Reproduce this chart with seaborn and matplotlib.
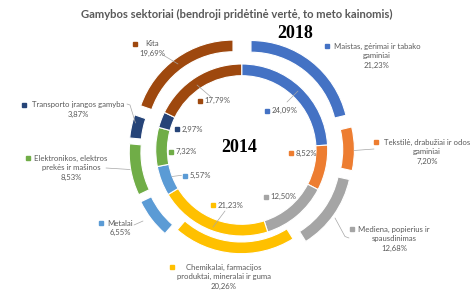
import matplotlib
matplotlib.use("Agg")
import matplotlib.pyplot as plt
import seaborn as sns

# ---------------- data ----------------
categories = [
    "Maistas, gėrimai ir tabako\ngaminiai",
    "Tekstilė, drabužiai ir odos\ngaminiai",
    "Mediena, popierius ir\nspausdinimas",
    "Chemikalai, farmacijos\nproduktai, mineralai ir guma",
    "Metalai",
    "Elektronikos, elektros\nprekės ir mašinos",
    "Transporto įrangos gamyba",
    "Kita",
]
values_2014 = [24.09, 8.52, 12.50, 21.23, 5.57, 7.32, 2.97, 17.79]
values_2018 = [21.23, 7.20, 12.68, 20.26, 6.55, 8.53, 3.87, 19.69]
title = "Gamybos sektoriai (bendroji pridėtinė vertė, to meto kainomis)"
year_outer = "2018"
year_inner = "2014"

# ---------------- style ----------------
colors = ["#4472C4", "#ED7D31", "#A5A5A5", "#FFC000",
          "#5B9BD5", "#70AD47", "#264478", "#9E480E"]
explode_px = [15, 15, 15, 6, 16, 15, 15, 15]
TXT = "#595959"
LINE = "#A6A6A6"

sns.set_theme(style="white")
plt.rcParams["font.family"] = ["Lato", "DejaVu Sans"]
palette = sns.color_palette(colors)

fig = plt.figure(figsize=(4.74, 2.99), dpi=100)
ax = fig.add_axes([0, 0, 1, 1])

cx, cy = 241.7, 150.0
r_in, r_out, w = 86.0, 97.7, 11.7

def fmt(v):
    return f"{v:.2f}%".replace(".", ",")

ax.pie(values_2014, radius=r_in, center=(cx, cy), colors=palette,
       startangle=-90, counterclock=True,
       wedgeprops=dict(width=w, edgecolor="white", linewidth=0.8))
ax.pie(values_2018, radius=r_out, center=(cx, cy), colors=palette,
       startangle=-90, counterclock=True, explode=explode_px,
       wedgeprops=dict(width=w, edgecolor="white", linewidth=0.8))

ax.set_xlim(0, 474)
ax.set_ylim(299, 0)
ax.set_aspect("equal")
ax.axis("off")

# title and years
ax.text(237, 14, title, ha="center", va="center", fontsize=8.1,
        fontweight="bold", color=TXT)
ax.text(295, 33, year_outer, ha="center", va="center", fontsize=13,
        fontweight="bold", family="Liberation Serif", color="black")
ax.text(239, 147.5, year_inner, ha="center", va="center", fontsize=13,
        fontweight="bold", family="Liberation Serif", color="black")

FS = 5.6
LS = 9.5

# outer labels: (text center x, first line y, marker x)
outer_pos = [
    (377, 46, 327),
    (427, 142, 376),
    (394, 229, 352),
    (224, 267, 172),
    (120, 223, 101),
    (71, 158, 28),
    (78, 105, 24),
    (152, 44, 135),
]
for i, (xc, y0, mx) in enumerate(outer_pos):
    lines = categories[i].split("\n") + [fmt(values_2018[i])]
    for k, ln in enumerate(lines):
        ax.text(xc, y0 + k * LS, ln, ha="center", va="center",
                fontsize=FS, color=TXT)
    ax.plot([mx], [y0], marker="s", markersize=2.3, color=palette[i],
            linestyle="none")

# inner labels: (marker x, y)
inner_pos = [
    (266.7, 110.7),
    (290.7, 153.3),
    (265.7, 196.7),
    (213.3, 205.0),
    (185.0, 175.7),
    (170.7, 151.7),
    (177.3, 129.3),
    (200.0, 100.7),
]
for i, (mx, my) in enumerate(inner_pos):
    ax.plot([mx], [my], marker="s", markersize=2.3, color=palette[i],
            linestyle="none")
    ax.text(mx + 4.5, my, fmt(values_2014[i]), ha="left", va="center",
            fontsize=FS, color=TXT)

# leader lines
leaders = [
    [(163, 55), (168, 58), (178, 64)],
    [(354, 150.5), (374, 149)],
    [(335, 218), (345, 236.5), (349, 238)],
    [(134, 225), (143, 221)],
    [(106, 168), (130, 169.5)],
    [(127, 104), (130, 105), (135.5, 123)],
    [(197, 85), (211, 97)],
    [(298, 91), (287, 102)],
    [(172, 176.5), (181.5, 175.3)],
    [(213, 227), (225, 211)],
]
for pts in leaders:
    xs, ys = zip(*pts)
    ax.plot(xs, ys, color=LINE, linewidth=0.5)

fig.savefig("out.png", dpi=100, facecolor="white")
